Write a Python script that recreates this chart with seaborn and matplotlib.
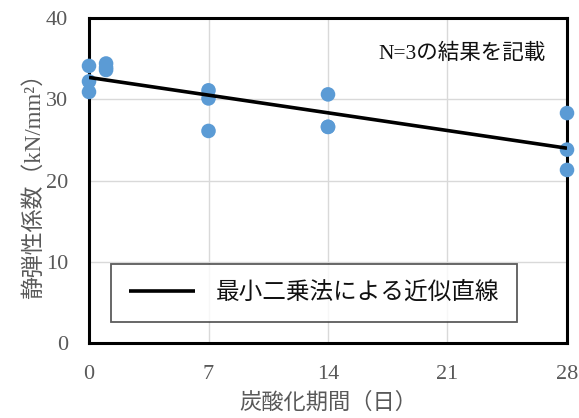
import matplotlib
matplotlib.use("Agg")
import matplotlib.pyplot as plt
import seaborn as sns
import pandas as pd

# Carbonation period (days) and static elastic modulus (kN/mm2), N=3 per age
days = [0, 0, 0, 1, 1, 1, 7, 7, 7, 14, 14, 14, 28, 28, 28]
modulus = [34.1, 32.2, 30.9, 34.4, 33.9, 33.6, 31.1, 30.1, 26.1,
           30.6, 26.6, 26.6, 28.3, 23.8, 21.3]
x_ticks = [0, 7, 14, 21, 28]
y_ticks = [0, 10, 20, 30, 40]

df = pd.DataFrame({"days": days, "modulus": modulus})

sns.set_theme(style="white")
fonts = ["Liberation Serif", "Noto Sans CJK JP", "DejaVu Sans"]
plt.rcParams["font.family"] = fonts

fig = plt.figure(figsize=(5.79, 4.18), dpi=100)
ax = fig.add_axes([89 / 579, 1 - 343 / 418, 478 / 579, 325 / 418])

grid_c = "#d9d9d9"
for t in x_ticks[1:-1]:
    ax.axvline(t, color=grid_c, lw=1.0, zorder=0)
for t in y_ticks[1:-1]:
    ax.axhline(t, color=grid_c, lw=1.0, zorder=0)

sns.scatterplot(data=df, x="days", y="modulus", ax=ax, color="#5b9bd5",
                s=110, edgecolor="none", clip_on=False, zorder=3, legend=False)
sns.regplot(data=df, x="days", y="modulus", ax=ax, scatter=False, ci=None,
            truncate=True, line_kws=dict(color="black", lw=2.6, zorder=4,
                                         solid_capstyle="butt"),
            label="最小二乗法による近似直線")

ax.set_xlim(0, 28)
ax.set_ylim(0, 40)
ax.set_xticks(x_ticks)
ax.set_yticks(y_ticks)
ax.tick_params(axis="both", length=0, labelsize=16, labelcolor="#595959")
ax.tick_params(axis="x", pad=16)
ax.tick_params(axis="y", pad=15)
for s in ax.spines.values():
    s.set_color("black")
    s.set_linewidth(2.2)

ax.set_xlabel("炭酸化期間（日）", fontsize=16, color="#595959", labelpad=6)
ax.set_ylabel("静弾性係数（kN/mm²）", fontsize=16.5, color="#595959", labelpad=1)

ax.text(0.955, 0.89, "N=3の結果を記載", transform=ax.transAxes, ha="right",
        va="center", fontsize=15.5, color="#111111")

leg = ax.legend(loc="center", bbox_to_anchor=(0.471, 0.154), frameon=True,
                fancybox=False, fontsize=17, handlelength=2.8, handletextpad=0.9,
                borderpad=0.75, borderaxespad=0)
leg.get_frame().set_edgecolor("#333333")
leg.get_frame().set_linewidth(1.3)
for t in leg.get_texts():
    t.set_color("#111111")

fig.savefig("out.png", dpi=100)
